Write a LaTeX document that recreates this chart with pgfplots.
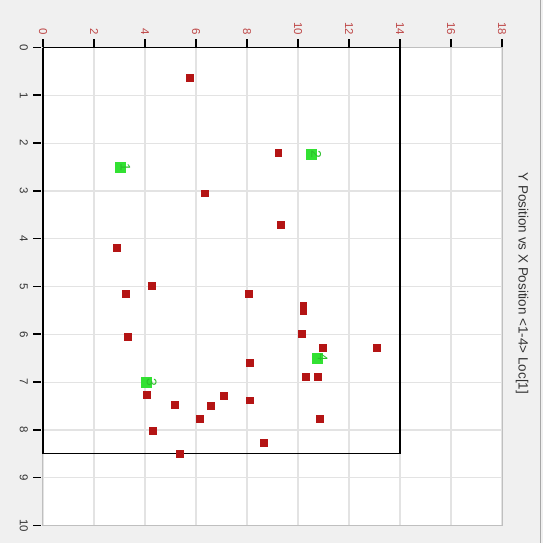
\documentclass[border=0pt]{standalone}
\usepackage{pgfplots}
\pgfplotsset{compat=1.18}
\usepackage{fontspec}
\setmainfont{Liberation Sans}
\definecolor{bgc}{RGB}{240,240,240}
\definecolor{redpt}{RGB}{180,20,20}
\definecolor{greenpt}{RGB}{50,225,50}
\definecolor{ticklab}{RGB}{190,70,70}
\begin{document}
\begin{tikzpicture}
\fill[bgc] (-43bp,-17bp) rectangle (500bp,525bp);
\draw[gray!70, line width=1bp] (497bp,-17bp) -- (497bp,525bp);
\begin{axis}[
  scale only axis, width=459bp, height=478bp,
  xmin=0, xmax=18, ymin=0, ymax=10, y dir=reverse,
  xtick={0,2,...,18}, ytick={0,1,...,10},
  axis background/.style={fill=white},
  axis line style={gray!50, line width=1bp},
  grid=major, major grid style={draw=gray!22, line width=1.2bp},
  major tick length=0pt,
  xticklabel pos=upper, yticklabel pos=left,
  xticklabel shift=11bp, yticklabel shift=14bp,
  /pgf/number format/assume math mode=true,
  xticklabel style={rotate=-90, anchor=east, font=\fontsize{11.5}{13}\selectfont, text=ticklab, inner sep=1bp},
  yticklabel style={rotate=-90, anchor=north, font=\fontsize{11.5}{13}\selectfont, text=black!80, inner sep=1bp},
  clip=false,
]
\addplot[black, line width=1.2bp, mark=none] coordinates {(0,0) (14,0) (14,8.5) (0,8.5) (0,0)};
\addplot[only marks, mark=square*, mark size=3.4bp, color=redpt] coordinates {
(5.76,0.63) (9.22,2.2) (6.35,3.05) (9.33,3.7) (2.9,4.18) (4.27,4.98)
(3.25,5.15) (8.08,5.15) (10.2,5.4) (10.2,5.5) (10.16,5.98) (3.33,6.05)
(13.1,6.28) (10.98,6.28) (8.12,6.59) (10.31,6.88) (10.78,6.88) (4.08,7.26)
(7.1,7.28) (5.18,7.47) (6.59,7.49) (8.12,7.38) (6.16,7.76) (10.86,7.76)
(4.31,8.01) (8.67,8.26) (5.37,8.49)
};
\addplot[only marks, mark=square*, mark size=5bp, color=greenpt,
  point meta=explicit symbolic, nodes near coords,
  every node near coord/.append style={rotate=-90, anchor=south, text=greenpt!85!black, font=\fontsize{14}{16}\selectfont, inner sep=0.5bp}]
  coordinates {(3.02,2.51)[1] (10.5,2.24)[2] (4.04,7.01)[3] (10.75,6.49)[4]};
\end{axis}
% tick marks (axis decoration)
\foreach \k in {0,...,9} {
  \draw[black, line width=1.6bp] (51bp*\k,478bp) -- (51bp*\k,486bp);
}
\foreach \k in {0,...,10} {
  \draw[black, line width=1.6bp] (-2bp,478bp-47.8bp*\k) -- (-10bp,478bp-47.8bp*\k);
}
\node[rotate=-90, text=black!80, font=\fontsize{13.5}{16}\selectfont] at (479bp,242bp) {Y Position vs X Position <1-4> Loc[1]};
\end{tikzpicture}
\end{document}
